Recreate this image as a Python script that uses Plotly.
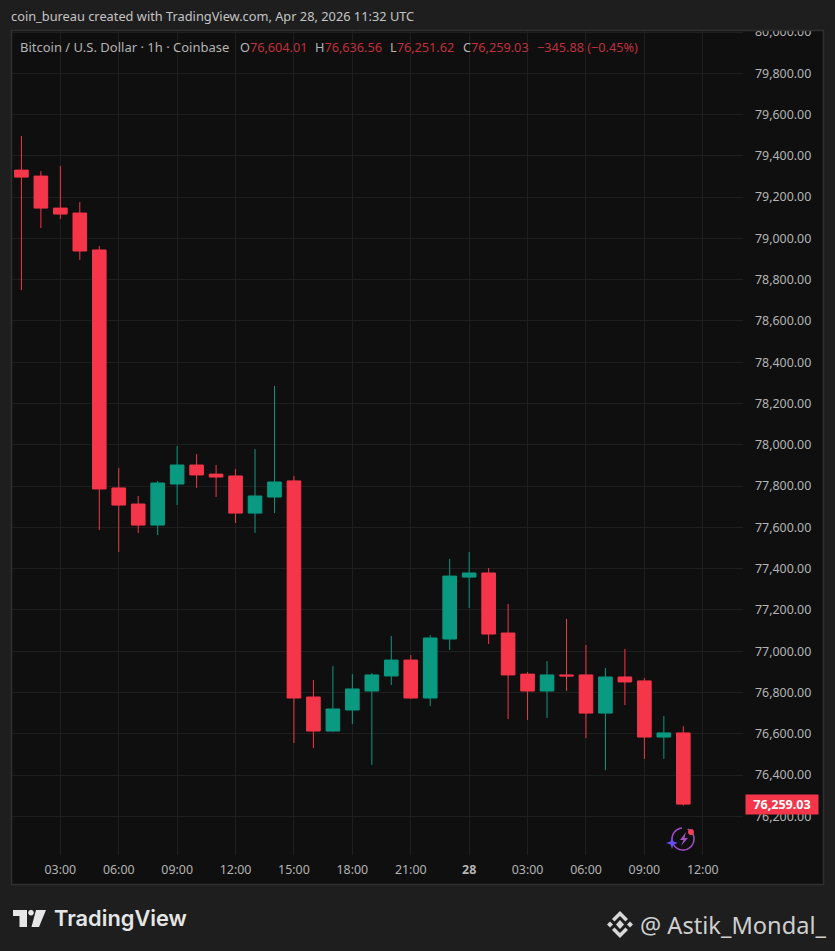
import math
import pandas as pd
import plotly.graph_objects as go

W = 835
H = 951

# hourly candles, Apr 27 01:00 -> Apr 28 11:00
times = pd.date_range("2026-04-27 01:00", periods=35, freq="h")
opens = [79331, 79302, 79147, 79123, 78944, 77791, 77713, 77611, 77810, 77902, 77858, 77849,
         77669, 77747, 77825, 76778, 76613, 76715, 76807, 76880, 76957, 76773, 77059, 77359,
         77379, 77088, 76889, 76807, 76885, 76885, 76700, 76875, 76856, 76584, 76604.01]
highs = [79496, 79326, 79351, 79176, 78963, 77888, 77752, 77825, 77994, 77955, 77902, 77883,
         77980, 78285, 77849, 76860, 76928, 76889, 76894, 77074, 76981, 77078, 77447, 77481,
         77403, 77229, 76899, 76952, 77156, 77030, 76919, 77011, 76870, 76686, 76636.56]
lows = [78750, 79050, 79094, 78895, 77587, 77481, 77573, 77563, 77708, 77791, 77747, 77621,
        77573, 77669, 76555, 76531, 76610, 76647, 76449, 76836, 76770, 76734, 77006, 77209,
        77035, 76671, 76667, 76676, 76807, 76579, 76424, 76739, 76478, 76478, 76251.62]
closes = [79297, 79147, 79118, 78939, 77786, 77708, 77611, 77815, 77902, 77854, 77844, 77669,
          77752, 77820, 76773, 76613, 76720, 76817, 76885, 76957, 76773, 77064, 77364, 77379,
          77083, 76885, 76807, 76885, 76880, 76700, 76875, 76851, 76584, 76604, 76259.03]

x_ticks = ["2026-04-27 03:00", "2026-04-27 06:00", "2026-04-27 09:00", "2026-04-27 12:00",
           "2026-04-27 15:00", "2026-04-27 18:00", "2026-04-27 21:00", "2026-04-28 00:00",
           "2026-04-28 03:00", "2026-04-28 06:00", "2026-04-28 09:00", "2026-04-28 12:00"]
x_labels = ["03:00", "06:00", "09:00", "12:00", "15:00", "18:00", "21:00", "<b>28</b>",
            "03:00", "06:00", "09:00", "12:00"]

RED = "#f5364a"
GREEN = "#0a9981"
DIM_RED = "#c0303d"
GREY = "#b4b4b4"
BG = "#1e1e1e"
PANEL = "#0f0f0f"
GRID = "#1e1e1e"
FONT = "Noto Sans"


def px(x):
    return x / W


def py(y):
    return 1 - y / H


def poly(points, close=True):
    s = "M" + " L".join(f"{px(a):.5f},{py(b):.5f}" for a, b in points)
    return s + " Z" if close else s


def ring(cx, cy, r, start=0, end=360, n=40):
    return [(cx + r * math.cos(math.radians(start + (end - start) * i / n)),
             cy + r * math.sin(math.radians(start + (end - start) * i / n))) for i in range(n + 1)]


def solid(points, color):
    return dict(type="path", xref="paper", yref="paper", path=poly(points), fillcolor=color,
                line=dict(width=0), layer="above")


def note(x, y, text, size=12, color=GREY, family=FONT, weight=400):
    return dict(xref="paper", yref="paper", x=px(x), y=py(y), text=text, showarrow=False,
                xanchor="left", yanchor="middle",
                font=dict(family=family, size=size, color=color, weight=weight))


shapes = [
    # chart panel, header strip hides the top half of the 80,000 label
    dict(type="rect", xref="paper", yref="paper", x0=px(11.5), x1=px(823.5), y0=py(884.5), y1=py(30),
         fillcolor=PANEL, line=dict(width=0), layer="below"),
    dict(type="rect", xref="paper", yref="paper", x0=0, x1=1, y0=py(30), y1=1,
         fillcolor=BG, line=dict(width=0), layer="above"),
    dict(type="rect", xref="paper", yref="paper", x0=px(11.5), x1=px(823.5), y0=py(884.5), y1=py(30.5),
         fillcolor="rgba(0,0,0,0)", line=dict(color="#303030", width=1.5), layer="above"),
    # TradingView logo
    solid([(13, 910), (27, 910), (27, 927), (19.5, 927), (19.5, 916), (13, 916)], "#e6e6e6"),
    solid(ring(31, 912.7, 2.8), "#e6e6e6"),
    solid([(36, 910), (46, 910), (39, 927), (31.5, 927)], "#e6e6e6"),
    # Binance logo
    solid([(620, 920), (624, 924.5), (620, 929), (616, 924.5)], "#d8d8d8"),
    solid([(610, 921.5), (613, 924.5), (610, 927.5), (607, 924.5)], "#d8d8d8"),
    solid([(630, 921.5), (633, 924.5), (630, 927.5), (627, 924.5)], "#d8d8d8"),
    solid([(620, 911), (628, 919), (625.5, 921.5), (620, 916), (614.5, 921.5), (612, 919)], "#d8d8d8"),
    solid([(620, 938), (628, 930), (625.5, 927.5), (620, 933), (614.5, 927.5), (612, 930)], "#d8d8d8"),
    # little flash icon under the last candle
    dict(type="path", xref="paper", yref="paper", path=poly(ring(683, 839, 11, -65, 265), close=False),
         line=dict(color="#a24fc4", width=1.5), fillcolor="rgba(0,0,0,0)", layer="above"),
    solid([(686, 832), (680, 840), (683.5, 840), (681, 846), (688, 838), (684.5, 838)], "#a24fc4"),
    solid([(672, 837), (673.5, 841.5), (678, 843), (673.5, 844.5), (672, 849), (670.5, 844.5),
           (666, 843), (670.5, 841.5)], "#6a4cf5"),
    solid(ring(691, 832, 3), "#f0405a"),
]

annotations = [
    note(9, 16, "coin_bureau created with TradingView.com, Apr 28, 2026 11:32 UTC", size=12.8, color="#c4c4c4"),
    note(18, 46.5, "Bitcoin / U.S. Dollar · 1h · Coinbase", size=13),
    note(238, 46.5, f'O<span style="color:{DIM_RED}">76,604.01</span>', size=12.7),
    note(313, 46.5, f'H<span style="color:{DIM_RED}">76,636.56</span>', size=12.7),
    note(388, 46.5, f'L<span style="color:{DIM_RED}">76,251.62</span>', size=12.7),
    note(461, 46.5, f'C<span style="color:{DIM_RED}">76,259.03</span>', size=12.7),
    note(535, 46.5, "−345.88 (−0.45%)", size=12.7, color=DIM_RED),
    dict(xref="paper", yref="y", x=px(782), y=closes[-1], text="<b>76,259.03</b>", showarrow=False,
         xanchor="center", yanchor="middle", width=70, height=17, bgcolor=RED,
         font=dict(family=FONT, size=12.6, color="#ffffff")),
    note(51.5, 918, "TradingView", size=21.8, color="#e6e6e6", family="Inter", weight=600),
    note(638, 924.5, "@ Astik_Mondal_", size=23.6, color="#cfcfcf"),
]

fig = go.Figure(go.Candlestick(
    x=times, open=opens, high=highs, low=lows, close=closes,
    whiskerwidth=0,
    increasing=dict(line=dict(color=GREEN, width=1), fillcolor=GREEN),
    decreasing=dict(line=dict(color=RED, width=1), fillcolor=RED),
    hoverinfo="skip",
    showlegend=False,
))

fig.update_layout(
    width=W,
    height=H,
    autosize=False,
    margin=dict(l=0, r=0, t=0, b=0),
    paper_bgcolor=BG,
    plot_bgcolor=PANEL,
    boxgap=0.3,
    boxgroupgap=0,
    font=dict(family=FONT, size=12.4, color=GREY),
    shapes=shapes,
    annotations=annotations,
    xaxis=dict(
        domain=[px(12), px(743)],
        type="date",
        automargin=False,
        range=["2026-04-27 00:31", "2026-04-28 14:04"],
        rangeslider=dict(visible=False),
        tickmode="array",
        tickvals=x_ticks,
        ticktext=x_labels,
        showgrid=True,
        gridcolor=GRID,
        gridwidth=1,
        showline=False,
        zeroline=False,
        ticks="",
        ticklabelstandoff=6,
    ),
    yaxis=dict(
        domain=[py(855), py(31)],
        range=[76012.5, 80005],
        side="right",
        automargin=False,
        tick0=76000,
        dtick=200,
        tickformat=",.2f",
        showgrid=True,
        gridcolor=GRID,
        gridwidth=1,
        showline=False,
        zeroline=False,
        ticks="",
        ticklabelstandoff=11,
    ),
)

# page has a default 8px body margin, drop it so the figure fills the window
fig.write_html("out.html", config=dict(displayModeBar=False),
               post_script="document.body.style.margin='0';document.body.style.background='#1e1e1e';")
